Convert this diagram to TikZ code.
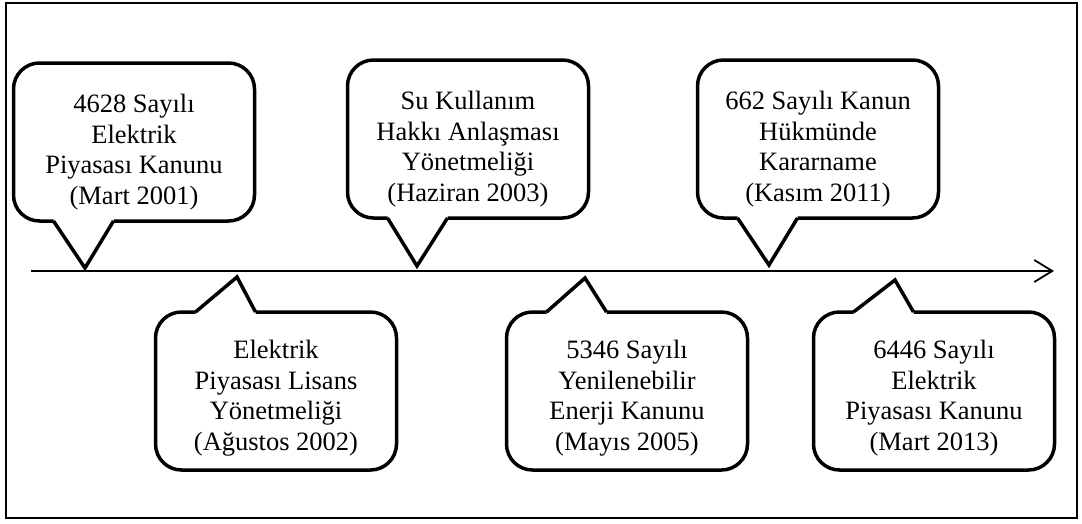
\documentclass[tikz,border=0pt]{standalone}
\usepackage{fontspec}
\setmainfont{Liberation Serif}
\usetikzlibrary{arrows.meta,calc}
\tikzset{
  callbox/.style={draw, line width=3.5pt, rounded corners=26pt, minimum width=241pt, minimum height=158pt, outer sep=0pt, inner sep=0pt},
  calltext/.style={align=center, font=\fontsize{26.5}{30.5}\selectfont, inner sep=0pt},
  pointer/.style={draw, line width=3.5pt, line join=miter, miter limit=10},
  axisline/.style={line width=1.8pt, -{Straight Barb[length=18pt,width=22pt,line width=1.8pt]}},
  frameline/.style={line width=1.8pt}
}
\begin{document}
\begin{tikzpicture}[x=1pt,y=-1pt]
\useasboundingbox (0,0) rectangle (1082,523);
\draw[frameline] (6,3) rectangle (1077,518);
% axis
\coordinate (a0) at (31,271);
\coordinate (a1) at (1054,271);
\draw[axisline] (a0) -- (a1);
% boxes
\node[callbox] (c1) at (134,142) {};
\node[callbox] (c2) at (276,391) {};
\node[callbox] (c3) at (468,139) {};
\node[callbox] (c4) at (627,391) {};
\node[callbox] (c5) at (818,139) {};
\node[callbox] (c6) at (934,391) {};
% tips
\coordinate (t1) at (85,268);
\coordinate (t2) at (237,277);
\coordinate (t3) at (417,266);
\coordinate (t4) at (585,278);
\coordinate (t5) at (769,265);
\coordinate (t6) at (895,280);
% pointers of upper boxes (downwards)
\foreach \c/\t in {c1/t1,c3/t3,c5/t5}{
  \fill[white] ([xshift=40pt]\c.south west) -- (\t) -- ([xshift=100pt]\c.south west)
     -- ([xshift=100pt,yshift=5pt]\c.south west) -- ([xshift=40pt,yshift=5pt]\c.south west) -- cycle;
  \draw[pointer] ([xshift=40pt]\c.south west) -- (\t) -- ([xshift=100pt]\c.south west);
}
% pointers of lower boxes (upwards)
\foreach \c/\t in {c2/t2,c4/t4,c6/t6}{
  \fill[white] ([xshift=40pt]\c.north west) -- (\t) -- ([xshift=100pt]\c.north west)
     -- ([xshift=100pt,yshift=-5pt]\c.north west) -- ([xshift=40pt,yshift=-5pt]\c.north west) -- cycle;
  \draw[pointer] ([xshift=40pt]\c.north west) -- (\t) -- ([xshift=100pt]\c.north west);
}
% texts
\node[calltext] (l1) at ([yshift=-10pt]c1.center) {4628 Sayılı\\Elektrik\\Piyasası Kanunu\\(Mart 2001)};
\node[calltext] (l2) at ([yshift=-7pt]c2.center) {Elektrik\\Piyasası Lisans\\Yönetmeliği\\(Ağustos 2002)};
\node[calltext] (l3) at ([yshift=-10pt]c3.center) {Su Kullanım\\Hakkı Anlaşması\\Yönetmeliği\\(Haziran 2003)};
\node[calltext] (l4) at ([yshift=-7pt]c4.center) {5346 Sayılı\\Yenilenebilir\\Enerji Kanunu\\(Mayıs 2005)};
\node[calltext] (l5) at ([yshift=-10pt]c5.center) {662 Sayılı Kanun\\Hükmünde\\Kararname\\(Kasım 2011)};
\node[calltext] (l6) at ([yshift=-7pt]c6.center) {6446 Sayılı\\Elektrik\\Piyasası Kanunu\\(Mart 2013)};
\end{tikzpicture}
\end{document}
